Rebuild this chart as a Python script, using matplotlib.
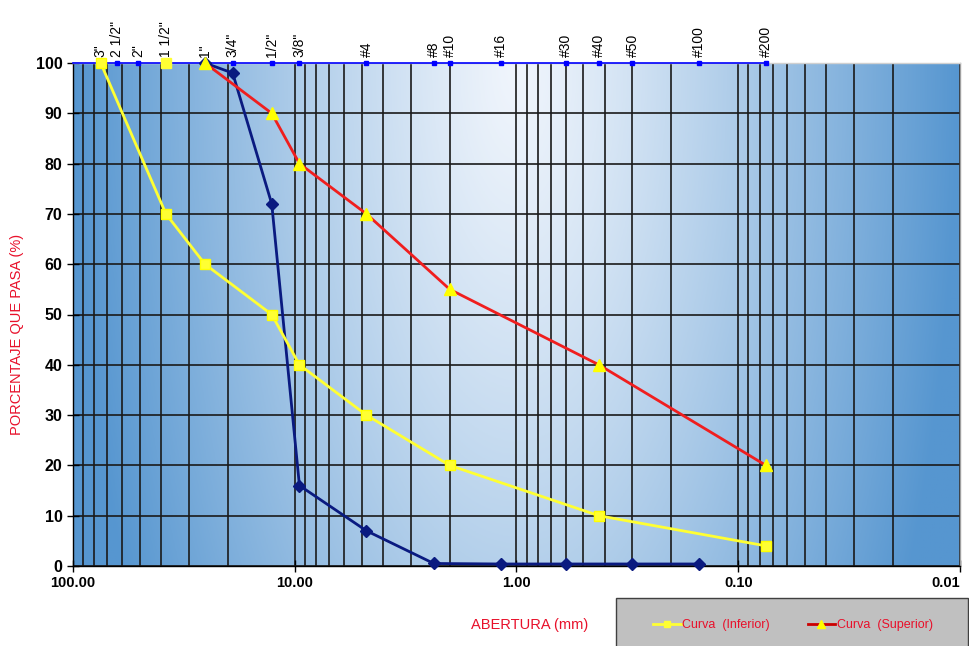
import numpy as np
import matplotlib.pyplot as plt
from matplotlib.lines import Line2D
from matplotlib.patches import Rectangle

plt.rcParams['font.family'] = ['Liberation Sans', 'DejaVu Sans']

# sieve openings (mm) and names for the top axis
sieve_mm = [75.0, 63.5, 50.8, 38.1, 25.4, 19.05, 12.7, 9.525, 4.75, 2.36, 2.0,
            1.18, 0.6, 0.425, 0.3, 0.15, 0.075]
sieve_names = ['3"', '2 1/2"', '2"', '1 1/2"', '1"', '3/4"', '1/2"', '3/8"', '#4',
               '#8', '#10', '#16', '#30', '#40', '#50', '#100', '#200']

# lower limit curve
inf_mm = [75.0, 38.1, 25.4, 12.7, 9.525, 4.75, 2.0, 0.425, 0.075]
inf_pct = [100, 70, 60, 50, 40, 30, 20, 10, 4]

# upper limit curve
sup_mm = [25.4, 12.7, 9.525, 4.75, 2.0, 0.425, 0.075]
sup_pct = [100, 90, 80, 70, 55, 40, 20]

# sample curve
mue_mm = [25.4, 19.05, 12.7, 9.525, 4.75, 2.36, 1.18, 0.6, 0.3, 0.15]
mue_pct = [100, 98, 72, 16, 7, 0.5, 0.4, 0.4, 0.4, 0.4]

x_ticks = [100, 10, 1, 0.1, 0.01]
x_ticklabels = ['100.00', '10.00', '1.00', '0.10', '0.01']

RED_TXT = '#E8102A'

fig = plt.figure(figsize=(9.7, 6.46), dpi=100)
ax = fig.add_axes([73 / 970, 1 - 566 / 646, (960 - 73) / 970, (566 - 63) / 646])

# background gradient of the plot area (light at top centre, blue to the sides)
ny, nx = 200, 400
gx = np.linspace(0, 1, nx)
gy = np.linspace(0, 1, ny)
X, Y = np.meshgrid(gx, gy)
d = np.clip(np.sqrt(((X - 0.5) / 0.5) ** 2 + (Y * 0.45) ** 2), 0, 1) ** 1.2
light = np.array([240, 245, 252]) / 255
dark = np.array([86, 150, 208]) / 255
img = light[None, None, :] * (1 - d[..., None]) + dark[None, None, :] * d[..., None]
ax.imshow(img, extent=[0, 1, 0, 1], transform=ax.transAxes, aspect='auto', zorder=0)

ax.set_xscale('log')
ax.set_xlim(100, 0.01)
ax.set_ylim(0, 100)

ax.grid(True, which='major', color='#1A1A1A', lw=1.2, zorder=1)
ax.grid(True, which='minor', axis='x', color='#1A1A1A', lw=1.2, zorder=1)

ax.set_xticks(x_ticks)
ax.set_xticklabels(x_ticklabels, fontweight='bold', fontsize=10.5)
ax.get_xticklabels()[-1].set_horizontalalignment('right')
ax.set_yticks(range(0, 101, 10))
ax.set_yticklabels([str(v) for v in range(0, 101, 10)], fontweight='bold', fontsize=11.5)
ax.set_yticks(range(0, 101, 2), minor=True)
ax.tick_params(axis='y', which='major', direction='inout', length=8, width=1)
ax.tick_params(axis='y', which='minor', direction='in', length=4, width=1)
ax.tick_params(axis='x', which='major', direction='inout', length=8, width=1)
ax.tick_params(axis='x', which='minor', length=0, labelbottom=False)

for s in ax.spines.values():
    s.set_color('black')
    s.set_linewidth(1)
ax.spines['right'].set_color('#A0A0A0')
ax.spines['top'].set_color('#D0D0D0')

# sieve reference line at 100 %
ax.plot([ax.get_xlim()[0], sieve_mm[0]], [100, 100], color='#0000FF', lw=1.2,
        clip_on=False, zorder=3)
ax.plot(sieve_mm, [100] * len(sieve_mm), color='#0000FF', lw=1.2, marker='s',
        ms=3.5, clip_on=False, zorder=3)

ax.plot(mue_mm, mue_pct, color='#0A1A80', lw=2, marker='D', ms=6,
        clip_on=False, zorder=4)
ax.plot(inf_mm, inf_pct, color='#FFFF33', lw=2, marker='s', ms=7,
        markeredgecolor='#FFFF00', clip_on=False, zorder=5)
ax.plot([38.1], [100], ls='none', marker='s', ms=7, color='#FFFF33', clip_on=False, zorder=5)
ax.plot(sup_mm, sup_pct, color='#F01E1E', lw=2, marker='^', ms=8,
        markerfacecolor='#FFFF00', markeredgecolor='#FFFF00', clip_on=False, zorder=6)

# top axis with sieve names
ax2 = ax.twiny()
ax2.set_xscale('log')
ax2.set_xlim(100, 0.01)
ax2.set_xticks(sieve_mm)
ax2.set_xticklabels(sieve_names, rotation=90, fontsize=10)
ax2.minorticks_off()
ax2.tick_params(axis='x', length=0, pad=4)
for s in ax2.spines.values():
    s.set_visible(False)

fig.text(0.018, 1 - 334 / 646, 'PORCENTAJE QUE PASA (%)',
         rotation=90, color=RED_TXT, fontsize=10.5, ha='center', va='center')
fig.text(530 / 970, 1 - 625 / 646, 'ABERTURA (mm)', color=RED_TXT, fontsize=10.5,
         ha='center', va='center')

# legend box
fig.patches.append(Rectangle((616 / 970, -0.01), (968 - 616) / 970, 0.01 + 48 / 646,
                             transform=fig.transFigure, facecolor='#C0C0C0',
                             edgecolor='#404040', lw=1))
h1 = Line2D([], [], color='#FFFF33', lw=2, marker='s', ms=5)
h2 = Line2D([], [], color='#CC0000', lw=2, marker='^', ms=6,
            markerfacecolor='#FFFF00', markeredgecolor='#FFFF00')
leg = fig.legend([h1, h2], ['Curva  (Inferior)', 'Curva  (Superior)'], ncol=2,
                 loc='center', bbox_to_anchor=(793 / 970, 1 - 625 / 646),
                 frameon=False, fontsize=9, handlelength=2.2, columnspacing=3.0,
                 handletextpad=0.15)
for t in leg.get_texts():
    t.set_color(RED_TXT)

fig.savefig('out.png', dpi=100)
